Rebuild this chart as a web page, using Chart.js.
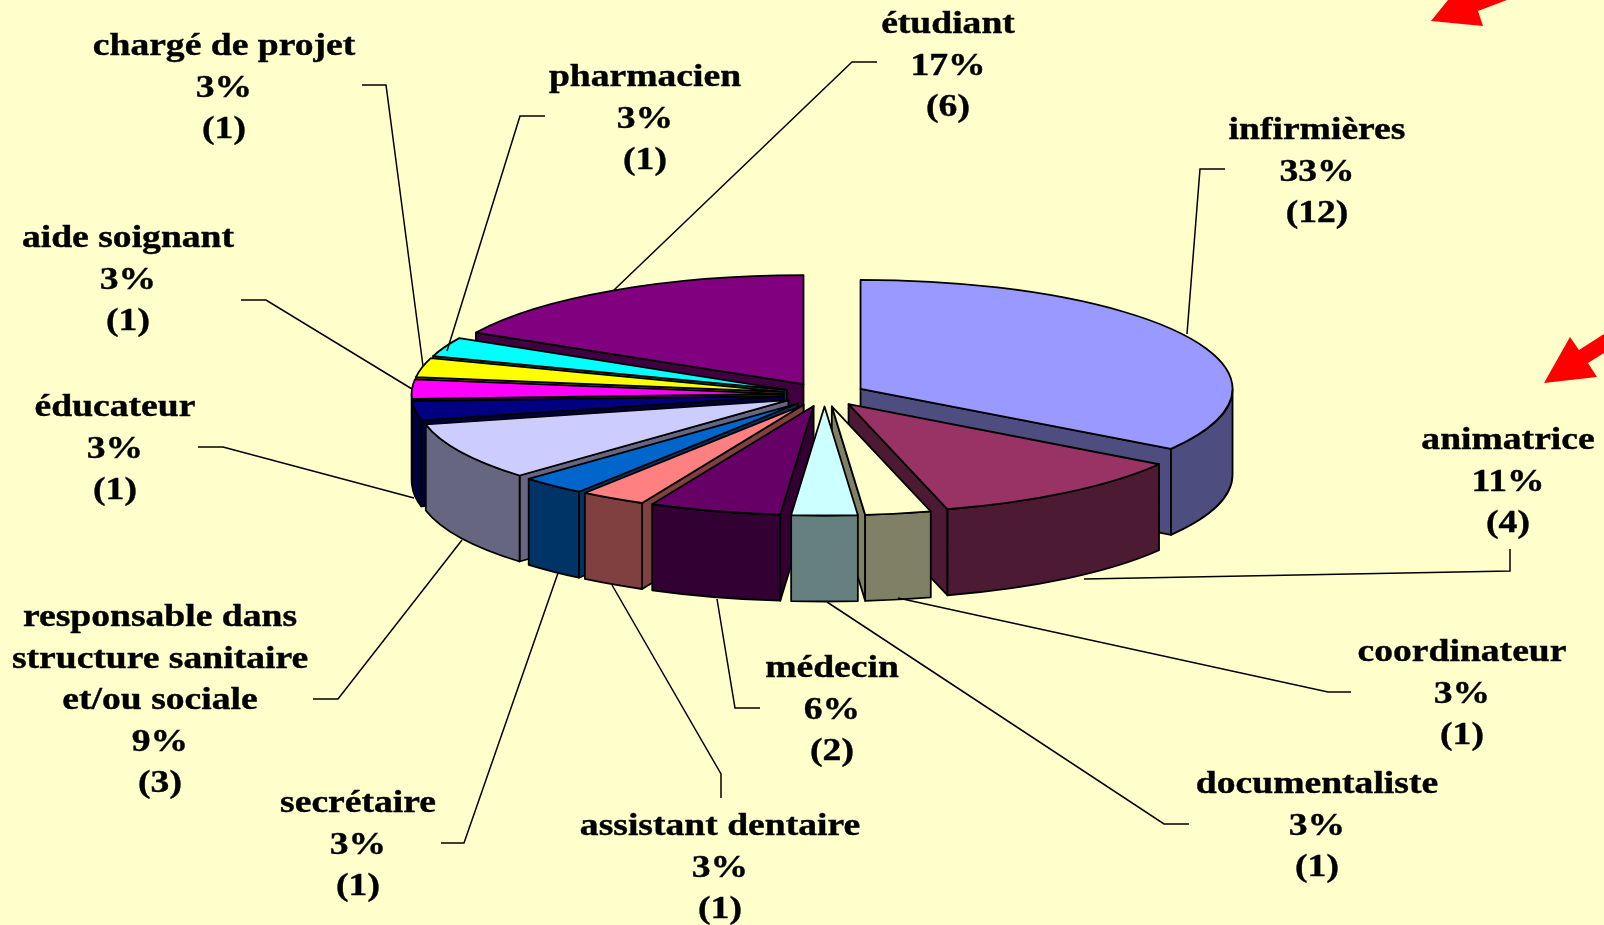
<!DOCTYPE html>
<html lang="fr">
<head>
<meta charset="utf-8">
<title>Professions</title>
<script src="https://cdn.jsdelivr.net/npm/chart.js@4/dist/chart.umd.min.js"></script>
<style>
  html, body { margin: 0; padding: 0; background: #FFFFCC; overflow: hidden; }
  canvas { display: block; }
</style>
</head>
<body>
<canvas id="pieChart" width="1604" height="925"></canvas>
<script>
const categories = ['infirmières', 'animatrice', 'coordinateur', 'documentaliste', 'médecin', 'assistant dentaire', 'secrétaire', 'responsable dans structure sanitaire et/ou sociale', 'éducateur', 'aide soignant', 'chargé de projet', 'pharmacien', 'étudiant'];
const counts = [12, 4, 1, 1, 2, 1, 1, 3, 1, 1, 1, 1, 6];
const percents = [33, 11, 3, 3, 6, 3, 3, 9, 3, 3, 3, 3, 17];
const colors = ['#9999FF', '#993366', '#FFFFCC', '#CCFFFF', '#660066', '#FF8080', '#0066CC', '#CCCCFF', '#000080', '#FF00FF', '#FFFF00', '#00FFFF', '#800080'];

// where each label sits: centre x, first baseline, label lines
const labelPlaces = [
  [1317, 139, ['infirmières']],
  [1508, 449, ['animatrice']],
  [1462, 661, ['coordinateur']],
  [1317, 793, ['documentaliste']],
  [832, 677, ['médecin']],
  [720, 835, ['assistant dentaire']],
  [358, 812, ['secrétaire']],
  [160, 626, ['responsable dans', 'structure sanitaire', 'et/ou sociale']],
  [115, 416, ['éducateur']],
  [128, 247, ['aide soignant']],
  [224, 55, ['chargé de projet']],
  [645, 86, ['pharmacien']],
  [948, 33, ['étudiant']]
];

const leaders = [
  [[1225, 169], [1200, 169], [1187, 334]],
  [[1510, 549], [1510, 571], [1084, 579]],
  [[1351, 692], [1328, 692], [898, 598]],
  [[1189, 824], [1164, 824], [827, 602]],
  [[760, 708], [735, 708], [717, 599]],
  [[721, 798], [721, 774], [612, 585]],
  [[441, 843], [464, 843], [558, 573]],
  [[313, 699], [338, 699], [462, 540]],
  [[198, 447], [223, 447], [414, 498]],
  [[241, 300], [266, 300], [412, 389]],
  [[362, 85], [386, 85], [423, 366]],
  [[545, 116], [520, 116], [447, 351]],
  [[877, 62], [852, 62], [614, 290]]
];

const arrows = [
  [[1431, 21], [1483, 26], [1478, 11], [1507, 0], [1448, 0]],
  [[1544, 383], [1597, 377], [1588, 363], [1604, 353], [1604, 334], [1579, 350], [1570, 337]]
];

// 3D look of the pie
const pieX = 824.5;
const pieY = 394.5;
const radiusX = 372;
const radiusY = 109;
const depth = 86;
const explode = 0.11;

// the reference text is stretched sideways
const textStretch = 1.175;
const lineGap = 41.6;

function darken(hex) {
  const n = parseInt(hex.slice(1), 16);
  const half = v => Math.round(v / 2);
  return `rgb(${half(n >> 16)}, ${half((n >> 8) & 255)}, ${half(n & 255)})`;
}

function face(ctx, fill, buildPath) {
  ctx.beginPath();
  buildPath();
  ctx.closePath();
  ctx.fillStyle = fill;
  ctx.fill();
  ctx.stroke();
}

function drawSlice(ctx, arc, color) {
  const start = arc.startAngle;
  const end = arc.endAngle;
  const mid = (start + end) / 2;
  const ax = pieX + Math.cos(mid) * radiusX * explode;
  const ay = pieY + Math.sin(mid) * radiusY * explode;
  const rimX = a => ax + Math.cos(a) * radiusX;
  const rimY = a => ay + Math.sin(a) * radiusY;
  const wall = darken(color);

  ctx.strokeStyle = '#000000';
  ctx.lineWidth = 1.8;
  ctx.lineJoin = 'round';

  // cut faces that turn towards the viewer
  [[start, Math.cos(start) < -0.001], [end, Math.cos(end) > 0.001]].forEach(([a, visible]) => {
    if (!visible) return;
    face(ctx, wall, () => {
      ctx.moveTo(ax, ay);
      ctx.lineTo(rimX(a), rimY(a));
      ctx.lineTo(rimX(a), rimY(a) + depth);
      ctx.lineTo(ax, ay + depth);
    });
  });

  // outer wall, front half only
  const s = Math.max(start, 0);
  const e = Math.min(end, Math.PI);
  if (s < e) {
    face(ctx, wall, () => {
      ctx.ellipse(ax, ay, radiusX, radiusY, 0, s, e);
      ctx.ellipse(ax, ay + depth, radiusX, radiusY, 0, e, s, true);
    });
  }

  // top face is the library's own arc, squashed into an ellipse
  ctx.save();
  ctx.translate(ax, ay);
  ctx.scale(1, radiusY / radiusX);
  ctx.translate(-arc.x, -arc.y);
  arc.draw(ctx);
  ctx.restore();

  ctx.beginPath();
  ctx.moveTo(ax, ay);
  ctx.ellipse(ax, ay, radiusX, radiusY, 0, start, end);
  ctx.closePath();
  ctx.stroke();
}

const pie3d = {
  id: 'pie3d',
  beforeDatasetsDraw(chart) {
    const ctx = chart.ctx;
    const arcs = chart.getDatasetMeta(0).data;
    // back to front: the further a slice is from straight down, the earlier
    const order = arcs.map((arc, i) => i).sort((a, b) => {
      const dist = i => Math.abs((arcs[i].startAngle + arcs[i].endAngle) / 2 - Math.PI / 2);
      return dist(b) - dist(a);
    });
    ctx.save();
    order.forEach(i => drawSlice(ctx, arcs[i], colors[i]));
    ctx.restore();
    return false;
  },
  afterDraw(chart) {
    const ctx = chart.ctx;
    ctx.save();

    ctx.strokeStyle = '#000000';
    ctx.lineWidth = 1.5;
    leaders.forEach(points => {
      ctx.beginPath();
      points.forEach(([x, y], i) => (i ? ctx.lineTo(x, y) : ctx.moveTo(x, y)));
      ctx.stroke();
    });

    ctx.fillStyle = '#FF0000';
    arrows.forEach(points => {
      ctx.beginPath();
      points.forEach(([x, y], i) => (i ? ctx.lineTo(x, y) : ctx.moveTo(x, y)));
      ctx.closePath();
      ctx.fill();
    });

    ctx.fillStyle = '#000000';
    ctx.strokeStyle = '#000000';
    ctx.lineWidth = 0.4;
    ctx.font = 'bold 32px "Liberation Serif"';
    ctx.textAlign = 'center';
    ctx.textBaseline = 'alphabetic';
    labelPlaces.forEach(([x, y, lines], i) => {
      [...lines, percents[i] + '%', '(' + counts[i] + ')'].forEach((line, k) => {
        ctx.save();
        ctx.translate(x, y + k * lineGap);
        ctx.scale(textStretch, 1);
        ctx.fillText(line, 0, 0);
        ctx.strokeText(line, 0, 0);
        ctx.restore();
      });
    });
    ctx.restore();
  }
};

new Chart(document.getElementById('pieChart'), {
  type: 'pie',
  data: {
    labels: categories,
    datasets: [{
      data: counts,
      backgroundColor: colors,
      borderWidth: 0
    }]
  },
  options: {
    responsive: false,
    animation: false,
    events: [],
    radius: radiusX,
    plugins: {
      legend: { display: false },
      tooltip: { enabled: false }
    }
  },
  plugins: [pie3d]
});
</script>
</body>
</html>
